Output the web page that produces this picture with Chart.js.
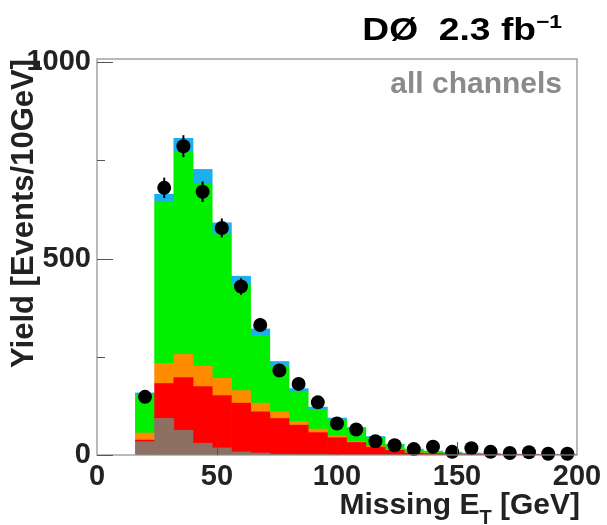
<!DOCTYPE html>
<html>
<head>
<meta charset="utf-8">
<script src="https://cdn.jsdelivr.net/npm/chart.js@4.4.1/dist/chart.umd.min.js"></script>
<style>
  html, body { margin: 0; padding: 0; background: #fff; }
  #wrap { width: 607px; height: 525px; }
</style>
</head>
<body>
<div id="wrap"><canvas id="c" width="607" height="525"></canvas></div>
<script>
// Bin centres (GeV), 8 GeV wide bins from 16 to 200
const binCenters = [20, 28, 36, 44, 52, 60, 68, 76, 84, 92, 100, 108, 116, 124, 132, 140, 148, 156, 164, 172, 180, 188, 196];
// Stacked background components (events per bin), bottom to top
const brownVals  = [34, 93, 63, 30, 18, 8, 5, 2, 1, 1, 0, 0, 0, 0, 0, 0, 0, 0, 0, 0, 0, 0, 0];
const redVals    = [4, 89, 134, 144, 133, 124, 105, 91, 75, 56, 44, 32, 20, 12, 5, 4, 3, 2, 2, 1, 1, 1, 0];
const orangeVals = [18, 51, 59, 52, 44, 32, 22, 17, 9, 9, 4, 3, 2, 1, 1, 1, 1, 1, 0, 0, 0, 0, 1];
const greenVals  = [97, 411, 516, 464, 366, 269, 172, 115, 76, 50, 42, 33, 23, 13, 8, 4, 2, 1, 1, 1, 1, 0, 0];
const cyanVals   = [5, 20, 34, 37, 30, 22, 17, 13, 8, 6, 4, 2, 2, 1, 1, 1, 1, 1, 0, 0, 0, 0, 0];
// Observed data and its uncertainty
const dataVals   = [148, 680, 786, 670, 578, 429, 331, 215, 181, 134, 80, 65, 35, 25, 15, 21, 8, 17, 8, 5, 7, 3, 3];
const dataErrs   = [12, 26, 28, 26, 24, 21, 18, 15, 13, 12, 9, 8, 6, 5, 4, 5, 3, 4, 3, 2, 3, 2, 2];
// Axis ticks
const xTickVals = [0, 50, 100, 150, 200];
const yLabelVals = [0, 500, 1000];
const yMinorVals = [250, 750];
const yTickVals = [0, 250, 500, 750, 1000];

const FONT = '"Liberation Sans", Arial, Helvetica, sans-serif';

function pts(arr) { return arr.map((v, i) => ({ x: binCenters[i], y: v })); }
function barDs(label, vals, color) {
  return {
    type: 'bar', label, data: pts(vals), backgroundColor: color, borderWidth: 0,
    barPercentage: 1.0, categoryPercentage: 1.0, order: 1, stack: 'bkg'
  };
}

const decor = {
  id: 'decor',
  afterDatasetsDraw(chart) {
    const { ctx, chartArea: a, scales: { x, y } } = chart;
    ctx.save();
    // error bars
    ctx.strokeStyle = '#000';
    ctx.lineWidth = 2;
    dataVals.forEach((v, i) => {
      const px = x.getPixelForValue(binCenters[i]);
      ctx.beginPath();
      ctx.moveTo(px, y.getPixelForValue(Math.max(0, v - dataErrs[i])));
      ctx.lineTo(px, y.getPixelForValue(v + dataErrs[i]));
      ctx.stroke();
    });
    // frame
    ctx.strokeStyle = '#8c8c8c';
    ctx.lineWidth = 1.2;
    ctx.strokeRect(a.left, a.top, a.right - a.left, a.bottom - a.top);
    // inward ticks
    ctx.strokeStyle = '#555';
    ctx.lineWidth = 1;
    xTickVals.forEach(v => {
      if (v === 0 || v === 200) return;
      const px = Math.round(x.getPixelForValue(v)) + 0.5;
      ctx.beginPath(); ctx.moveTo(px, a.bottom); ctx.lineTo(px, a.bottom - 13); ctx.stroke();
    });
    yLabelVals.forEach(v => {
      const py = Math.round(y.getPixelForValue(v)) + 0.5;
      ctx.beginPath(); ctx.moveTo(a.left, py); ctx.lineTo(a.left + 16, py); ctx.stroke();
    });
    yMinorVals.forEach(v => {
      const py = Math.round(y.getPixelForValue(v)) + 0.5;
      ctx.beginPath(); ctx.moveTo(a.left, py); ctx.lineTo(a.left + 8, py); ctx.stroke();
    });
    ctx.restore();
  },
  afterDraw(chart) {
    const { ctx } = chart;
    ctx.save();
    // header
    ctx.fillStyle = '#000';
    ctx.textBaseline = 'alphabetic';
    ctx.textAlign = 'left';
    const main = 'DØ  2.3 fb';
    ctx.font = 'bold 19px ' + FONT;
    const supW = ctx.measureText('−1').width;
    ctx.font = 'bold 31px ' + FONT;
    const mainW = ctx.measureText(main).width;
    const sx = 1.2;
    const right = 562;
    const startX = right - (mainW + supW) * sx;
    ctx.save();
    ctx.translate(startX, 40);
    ctx.scale(sx, 1);
    ctx.fillText(main, 0, 0);
    ctx.font = 'bold 19px ' + FONT;
    ctx.fillText('−1', mainW, -12);
    ctx.restore();
    // label inside plot
    ctx.fillStyle = '#8a8a8a';
    ctx.font = 'bold 30px ' + FONT;
    ctx.textAlign = 'right';
    ctx.fillText('all channels', 562, 93);
    // x-axis title with subscript
    ctx.fillStyle = '#222';
    ctx.textAlign = 'left';
    const p1 = 'Missing E', p3 = ' [GeV]';
    ctx.font = 'bold 30px ' + FONT;
    const w1 = ctx.measureText(p1).width, w3 = ctx.measureText(p3).width;
    ctx.font = 'bold 20px ' + FONT;
    const w2 = ctx.measureText('T').width;
    let xx = 580 - (w1 + w2 + w3);
    const base = 514;
    ctx.font = 'bold 30px ' + FONT;
    ctx.fillText(p1, xx, base); xx += w1;
    ctx.font = 'bold 20px ' + FONT;
    ctx.fillText('T', xx, base + 10); xx += w2;
    ctx.font = 'bold 30px ' + FONT;
    ctx.fillText(p3, xx, base);
    ctx.restore();
  }
};

new Chart(document.getElementById('c'), {
  data: {
    datasets: [
      {
        type: 'scatter', label: 'Data', data: pts(dataVals), backgroundColor: '#000', borderColor: '#000',
        pointRadius: 7, pointHoverRadius: 7, borderWidth: 0, order: 0, clip: false, stack: 'data'
      },
      barDs('brown', brownVals, '#8c7062'),
      barDs('red', redVals, '#ff0000'),
      barDs('orange', orangeVals, '#ff8c00'),
      barDs('green', greenVals, '#00f000'),
      barDs('cyan', cyanVals, '#1ab0ec')
    ]
  },
  options: {
    responsive: false,
    animation: false,
    events: [],
    layout: { padding: { top: 59, right: 30, left: 0, bottom: 0 } },
    plugins: { legend: { display: false }, tooltip: { enabled: false } },
    scales: {
      x: {
        type: 'linear', min: 0, max: 200, stacked: true, offset: false,
        grid: { display: false, drawTicks: false },
        border: { display: false },
        ticks: {
          stepSize: 50, color: '#222', padding: 5, maxRotation: 0, autoSkip: false,
          font: { family: FONT, size: 29, weight: 'bold' },
          callback: v => (xTickVals.includes(v) ? String(v) : '')
        },
        afterFit: s => { s.height = 70; }
      },
      y: {
        type: 'linear', min: 0, max: 1008, stacked: true,
        grid: { display: false, drawTicks: false },
        border: { display: false },
        afterBuildTicks: s => { s.ticks = yTickVals.map(v => ({ value: v })); },
        ticks: {
          autoSkip: false, color: '#222', padding: 6,
          font: { family: FONT, size: 29, weight: 'bold' },
          callback: v => (yLabelVals.includes(v) ? String(v) : '')
        },
        title: {
          display: true, text: 'Yield [Events/10GeV]', align: 'end', color: '#222',
          font: { family: FONT, size: 31, weight: 'bold' }, padding: { top: 6, bottom: 0 }
        },
        afterFit: s => { s.width = 97; }
      }
    }
  },
  plugins: [decor]
});
</script>
</body>
</html>
